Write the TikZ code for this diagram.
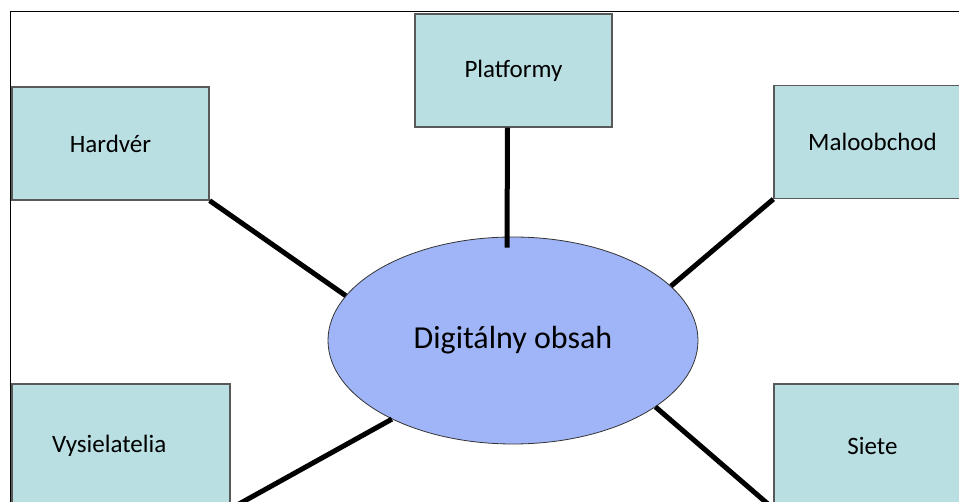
\documentclass[tikz,border=0pt]{standalone}
\usepackage{fontspec}
\setmainfont{Carlito}
\usetikzlibrary{shapes.geometric}

\definecolor{boxfill}{RGB}{185,223,227}
\definecolor{hubfill}{RGB}{160,181,248}

\begin{document}
\begin{tikzpicture}[x=1pt, y=-1pt,
    area/.style={rectangle, draw=black!65, line width=1.3pt, fill=boxfill,
        minimum width=197pt, minimum height=113pt, inner sep=0pt,
        font=\fontsize{25}{30}\selectfont},
    link/.style={line width=5pt}]
    \useasboundingbox (0,0) rectangle (959,502);
    \clip (0,0) rectangle (959,502);
    \draw[line width=1pt] (10,12) rectangle (990,530);

    % the hub
    \draw (513,340.5) node[ellipse, draw=black!80, line width=0.8pt, fill=hubfill,
        minimum width=370pt, minimum height=207pt, inner sep=0pt,
        font=\fontsize{32}{38}\selectfont] (obsah) {Digitálny obsah};

    % the boxes round it
    \draw (110.5,143.5) node[area] (hardver) {Hardvér};
    \draw (513.5,70.5) node[area] (platformy) {Platformy};
    \draw (872.5,142) node[area] (maloobchod) {Maloobchod};
    \draw (121,446) node[area, minimum height=124pt, inner xsep=40pt,
        text width=138pt, align=left] (vysielatelia) {Vysielatelia};
    \draw (872.5,446) node[area, minimum height=124pt] (siete) {Siete};

    \draw[link] (hardver.south east) -- (obsah.165);
    \draw[link] ([xshift=-6pt]platformy.south) -- ([xshift=-6pt, yshift=-11pt]obsah.north);
    \draw[link] (maloobchod.south west) -- (obsah.19);
    \draw[link] (vysielatelia.south east) -- (obsah.213);
    \draw[link] (siete.south west) -- (obsah.335);
\end{tikzpicture}
\end{document}
